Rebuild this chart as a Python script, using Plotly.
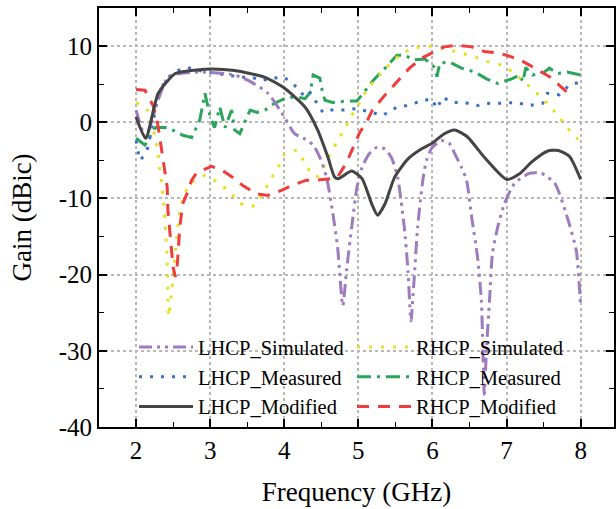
import plotly.graph_objects as go

# ---- data (frequency in GHz, gain in dBic) ----
lhcp_sim_f = [2.0, 2.13, 2.3, 2.43, 2.6, 2.89, 3.33, 3.55, 3.78, 4.0, 4.14, 4.28, 4.39, 4.48, 4.57,
              4.65, 4.72, 4.79, 4.84, 4.91, 4.98, 5.05, 5.15, 5.25, 5.36, 5.45, 5.53, 5.62, 5.67, 5.71,
              5.75, 5.8, 5.87, 5.92, 5.99, 6.12, 6.23, 6.3, 6.39, 6.46, 6.53, 6.61, 6.66, 6.68, 6.7,
              6.73, 6.77, 6.81, 6.88, 6.97, 7.11, 7.31, 7.47, 7.65, 7.82, 7.94, 8.0]
lhcp_sim_g = [1.6, -1.9, 3.0, 5.9, 6.4, 6.6, 6.2, 5.3, 3.8, 0.7, -1.5, -2.2, -3.0, -4.6, -7.2,
              -11.6, -16.4, -24.1, -19.5, -13.8, -8.6, -5.9, -4.1, -3.3, -3.5, -4.7, -7.2, -13.8, -19.5, -26.1,
              -21.0, -13.8, -7.6, -5.0, -3.4, -2.4, -2.8, -4.1, -5.9, -7.6, -12.5, -17.8, -23.4, -29.6, -35.7,
              -29.6, -23.4, -17.2, -13.8, -10.7, -8.0, -6.7, -6.7, -8.0, -12.5, -16.8, -24.3]

rhcp_sim_f = [2.0, 2.15, 2.26, 2.3, 2.32, 2.35, 2.37, 2.40, 2.42, 2.44, 2.47, 2.53, 2.57, 2.6, 2.66,
              2.75, 2.93, 3.1, 3.27, 3.4, 3.56, 3.71, 3.81, 3.92, 4.0, 4.17, 4.28, 4.39, 4.45, 4.52,
              4.61, 4.71, 4.82, 4.91, 5.02, 5.11, 5.25, 5.38, 5.56, 5.73, 5.94, 6.14, 6.34, 6.54, 6.73,
              6.93, 7.08, 7.24, 7.4, 7.55, 7.69, 7.82, 7.96, 8.0]
rhcp_sim_g = [2.6, 1.6, -2.1, -4.3, -6.3, -8.3, -10.3, -14.2, -18.2, -25.5, -23.2, -17.2, -13.3, -11.3, -9.3,
              -7.9, -7.0, -7.9, -9.2, -10.6, -11.1, -9.4, -7.6, -5.9, -4.3, -3.7, -5.4, -7.0, -7.1, -6.1,
              -4.3, -2.6, -0.8, 0.9, 2.6, 4.2, 5.8, 7.2, 8.8, 9.7, 10.0, 9.7, 9.2, 8.7, 8.0,
              7.5, 6.6, 5.3, 3.9, 2.5, 0.9, -0.7, -2.2, -2.6]

lhcp_meas_f = [2.0, 2.05, 2.1, 2.16, 2.28, 2.32, 2.43, 2.57, 2.69, 2.84, 2.97, 3.1, 3.24, 3.43, 3.56,
               3.7, 3.85, 4.0, 4.17, 4.28, 4.35, 4.44, 4.52, 4.64, 4.79, 4.98, 5.18, 5.33, 5.52, 5.65,
               5.79, 5.99, 6.06, 6.14, 6.26, 6.43, 6.61, 6.77, 6.95, 7.13, 7.31, 7.49, 7.55, 7.71, 7.85, 8.0]
lhcp_meas_g = [-2.4, -5.0, -4.5, -3.3, 2.6, 4.2, 5.9, 6.8, 7.2, 6.8, 6.6, 6.4, 6.2, 5.9, 5.9,
               5.5, 5.8, 5.9, 4.6, 3.3, 3.9, 2.6, 1.3, 1.6, 1.6, 1.8, 1.3, 0.9, 2.0, 2.2,
               2.6, 3.1, 1.8, 3.3, 2.6, 2.6, 2.2, 2.5, 2.5, 2.6, 2.2, 2.5, 3.8, 3.6, 4.9, 5.3]

rhcp_meas_f = [2.0, 2.12, 2.26, 2.43, 2.63, 2.75, 2.86, 2.93, 3.0, 3.06, 3.13, 3.2, 3.29, 3.33, 3.4,
               3.54, 3.63, 3.74, 3.87, 4.05, 4.18, 4.28, 4.35, 4.39, 4.48, 4.52, 4.55, 4.65, 4.86, 4.98,
               5.05, 5.2, 5.36, 5.52, 5.63, 5.74, 5.9, 6.03, 6.06, 6.1, 6.23, 6.39, 6.57, 6.73, 6.88,
               7.07, 7.18, 7.22, 7.26, 7.35, 7.51, 7.58, 7.69, 7.82, 8.0]
rhcp_meas_g = [-2.1, -3.0, -0.7, -0.7, -1.7, -2.0, 0.3, 3.8, 0.7, -0.7, 2.0, -0.7, 1.6, -1.0, -1.5,
               1.6, 1.3, 1.6, 2.5, 3.3, 3.3, 3.1, 3.9, 6.2, 5.8, 3.8, 2.9, 2.6, 2.8, 2.8,
               3.6, 5.5, 7.1, 8.8, 8.8, 8.2, 8.3, 7.2, 6.0, 7.8, 7.9, 7.1, 6.6, 5.7, 5.1,
               5.7, 6.2, 5.3, 7.2, 6.2, 6.6, 7.1, 6.4, 6.6, 6.2]

lhcp_mod_f = [2.0, 2.13, 2.3, 2.53, 2.75, 3.0, 3.33, 3.74, 4.0, 4.28, 4.45, 4.59, 4.68, 4.73, 4.91,
              5.05, 5.18, 5.26, 5.36, 5.49, 5.67, 5.85, 5.99, 6.16, 6.3, 6.47, 6.7, 7.0, 7.17, 7.34,
              7.55, 7.7, 7.85, 8.0]
lhcp_mod_g = [0.7, -2.1, 3.8, 6.4, 6.8, 7.0, 6.8, 5.9, 4.5, 2.0, -1.0, -4.6, -7.2, -7.4, -6.4,
              -7.4, -10.7, -12.2, -10.7, -7.2, -4.8, -3.5, -2.8, -1.5, -1.0, -1.9, -4.6, -7.5, -6.8, -5.2,
              -3.8, -3.7, -4.5, -7.5]

rhcp_mod_f = [2.0, 2.12, 2.23, 2.28, 2.32, 2.36, 2.39, 2.42, 2.43, 2.46, 2.48, 2.5, 2.53, 2.55, 2.57,
              2.59, 2.63, 2.69, 2.75, 2.82, 3.02, 3.16, 3.33, 3.44, 3.63, 3.78, 3.97, 4.1, 4.3, 4.44,
              4.64, 4.72, 4.84, 4.91, 5.02, 5.11, 5.19, 5.38, 5.58, 5.69, 5.85, 5.99, 6.16, 6.33, 6.53,
              6.7, 6.88, 7.0, 7.18, 7.31, 7.47, 7.61, 7.74, 7.88]
rhcp_mod_g = [4.3, 4.2, 2.2, 0.5, -2.0, -4.6, -6.3, -8.5, -11.6, -14.5, -17.2, -19.0, -20.3, -19.5, -16.8,
              -13.8, -10.7, -9.3, -7.6, -6.6, -5.8, -6.3, -7.4, -8.3, -9.4, -9.6, -8.9, -8.3, -7.6, -7.6,
              -7.4, -7.2, -5.3, -3.7, -1.3, 0.0, 1.6, 3.8, 5.9, 7.1, 8.4, 9.1, 9.9, 10.1, 9.9,
              9.3, 9.1, 8.8, 8.2, 7.5, 6.6, 5.8, 4.6, 3.4]

x_ticks = [2, 3, 4, 5, 6, 7, 8]
x_labels = ["2", "3", "4", "5", "6", "7", "8"]
y_ticks = [10, 0, -10, -20, -30, -40]
y_labels = ["10", "0", "-10", "-20", "-30", "-40"]

# (name, x, y, color, dash, shape, legend rank); list order sets drawing order
series = [
    ("RHCP_Measured", rhcp_meas_f, rhcp_meas_g, "#2ba55c", "14px,6px,3px,6px", "linear", 4),
    ("LHCP_Measured", lhcp_meas_f, lhcp_meas_g, "#3a6fc4", "3px,8px", "linear", 3),
    ("RHCP_Simulated", rhcp_sim_f, rhcp_sim_g, "#e6e024", "3px,9px", "spline", 2),
    ("LHCP_Simulated", lhcp_sim_f, lhcp_sim_g, "#9e7bbf", "13px,5px,3px,5px,3px,5px", "spline", 1),
    ("RHCP_Modified", rhcp_mod_f, rhcp_mod_g, "#f03c3c", "12px,9px", "linear", 6),
    ("LHCP_Modified", lhcp_mod_f, lhcp_mod_g, "#444444", "solid", "spline", 5),
]

fig = go.Figure()
for name, xs, ys, color, dash, shape, rank in series:
    fig.add_trace(go.Scatter(
        x=xs, y=ys, name=name, mode="lines", legendrank=rank,
        line=dict(color=color, width=3, dash=dash, shape=shape,
                  smoothing=0.6 if shape == "spline" else None),
    ))

font_family = "Liberation Serif, Times New Roman, serif"
axis_common = dict(
    showline=True, linecolor="black", linewidth=2, mirror="allticks",
    ticks="inside", ticklen=8, tickwidth=1.5, tickcolor="black",
    showgrid=True, gridcolor="#b8b8b8", griddash="dot", gridwidth=1.5,
    zeroline=False, automargin=False,
    tickfont=dict(family=font_family, size=25, color="black"),
    minor=dict(ticks="inside", ticklen=5, tickwidth=1.2, tickcolor="black", showgrid=False),
)

fig.update_xaxes(range=[1.5, 8.45], tickmode="array", tickvals=x_ticks, ticktext=x_labels,
                 minor_dtick=0.5, minor_tick0=1.5,
                 title=dict(text="Frequency (GHz)", font=dict(family=font_family, size=27, color="black"), standoff=19),
                 **axis_common)
fig.update_yaxes(range=[-40, 15], tickmode="array", tickvals=y_ticks, ticktext=y_labels,
                 minor_dtick=5, minor_tick0=-45,
                 title=dict(text="Gain (dBic)", font=dict(family=font_family, size=27, color="black"), standoff=19),
                 **axis_common)

fig.update_layout(
    width=616, height=509,
    margin=dict(l=99, r=2, t=8, b=82),
    plot_bgcolor="white", paper_bgcolor="white",
    font=dict(family=font_family, color="black"),
    legend=dict(
        orientation="h", x=0.068, y=0.238, xanchor="left", yanchor="top",
        entrywidth=149, entrywidthmode="pixels", itemwidth=54,
        bgcolor="rgba(0,0,0,0)", font=dict(family=font_family, size=20.5, color="black"),
        tracegroupgap=0,
    ),
)

fig.write_html("out.html")
